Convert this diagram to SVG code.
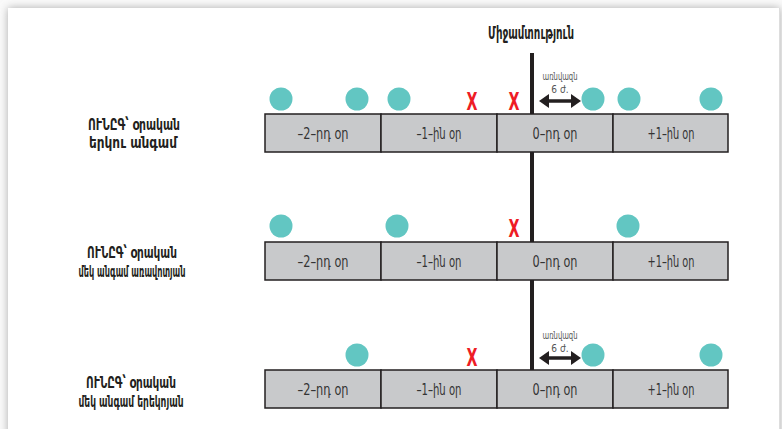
<svg xmlns="http://www.w3.org/2000/svg" width="782" height="429" viewBox="0 0 782 429">
<style>
.lbl{font-family:"DejaVu Sans Condensed","DejaVu Sans",sans-serif;font-stretch:condensed;font-weight:bold;font-size:16px;fill:#231f20;text-anchor:middle}
.cell rect{fill:#c8c9cb;stroke:#231f20;stroke-width:1.5}
.ct{font-family:"DejaVu Sans Condensed","DejaVu Sans",sans-serif;font-stretch:condensed;font-size:15.5px;fill:#333;text-anchor:middle}
.dot{fill:#62c6c2}
.x{font-family:"DejaVu Sans Condensed","DejaVu Sans",sans-serif;font-stretch:condensed;font-weight:bold;font-size:24px;fill:#ee1c25;text-anchor:middle}
.note{font-family:"DejaVu Sans Condensed","DejaVu Sans",sans-serif;font-stretch:condensed;font-size:10px;fill:#555;text-anchor:middle}
.title{font-family:"DejaVu Sans Condensed","DejaVu Sans",sans-serif;font-stretch:condensed;font-weight:bold;font-size:18px;fill:#231f20;text-anchor:middle}
.arr{stroke:#231f20;stroke-width:3.5;marker-start:url(#ah);marker-end:url(#ah)}
</style>
<defs>
<filter id="sh" x="-5%" y="-5%" width="110%" height="110%">
<feGaussianBlur stdDeviation="4"/>
</filter>
<marker id="ah" viewBox="0 0 10 14" refX="2" refY="7" markerWidth="10" markerHeight="14" markerUnits="userSpaceOnUse" orient="auto-start-reverse">
<path d="M0,0 L10,7 L0,14 Z" fill="#231f20"/>
</marker>
</defs>
<rect width="782" height="429" fill="#fafafa"/>
<rect x="8" y="8" width="772" height="440" fill="#aaa" filter="url(#sh)"/>
<rect x="8" y="8" width="771" height="440" fill="#fff"/>
<line x1="779.5" y1="8" x2="779.5" y2="429" stroke="#ddd" stroke-width="1"/>

<g id="title">
<text class="title" x="531" y="39" textLength="86" lengthAdjust="spacingAndGlyphs">Միջամտություն</text>
</g>

<g id="connectors">
<rect x="530" y="53" width="4" height="317" fill="#231f20"/>
<line class="arr" x1="547" y1="101" x2="573" y2="101"/>
<line class="arr" x1="547" y1="358" x2="573" y2="358"/>
</g>

<g id="row1">
<g id="row1-label">
<text class="lbl" x="134" y="130" textLength="92" lengthAdjust="spacingAndGlyphs">ՈՒՆԸԳ՝ օրական</text>
<text class="lbl" x="133" y="148" textLength="88" lengthAdjust="spacingAndGlyphs">երկու անգամ</text>
</g>
<g id="row1-cells" class="cell">
<rect x="265" y="114" width="116" height="38"/>
<rect x="381" y="114" width="116" height="38"/>
<rect x="497" y="114" width="116" height="38"/>
<rect x="613" y="114" width="115" height="38"/>
<text class="ct" x="323" y="139" textLength="51" lengthAdjust="spacingAndGlyphs">–2–րդ օր</text>
<text class="ct" x="439" y="139" textLength="45" lengthAdjust="spacingAndGlyphs">–1–ին օր</text>
<text class="ct" x="555" y="139" textLength="45" lengthAdjust="spacingAndGlyphs">0–րդ օր</text>
<text class="ct" x="671" y="139" textLength="47" lengthAdjust="spacingAndGlyphs">+1–ին օր</text>
</g>
<g id="row1-marks">
<circle class="dot" cx="281" cy="99" r="11.5"/>
<circle class="dot" cx="357" cy="99" r="11.5"/>
<circle class="dot" cx="399" cy="99" r="11.5"/>
<circle class="dot" cx="593" cy="99" r="11.5"/>
<circle class="dot" cx="629" cy="99" r="11.5"/>
<circle class="dot" cx="711" cy="99" r="11.5"/>
<text class="x" x="472" y="110" textLength="11" lengthAdjust="spacingAndGlyphs">X</text>
<text class="x" x="514" y="110" textLength="11" lengthAdjust="spacingAndGlyphs">X</text>
<text class="note" x="560" y="80" textLength="35" lengthAdjust="spacingAndGlyphs">առնվազն</text>
<text class="note" x="560" y="93">6 ժ.</text>
</g>
</g>

<g id="row2">
<g id="row2-label">
<text class="lbl" x="132" y="258" textLength="90" lengthAdjust="spacingAndGlyphs">ՈՒՆԸԳ՝ օրական</text>
<text class="lbl" x="132" y="277" textLength="107" lengthAdjust="spacingAndGlyphs">մեկ անգամ առավոտյան</text>
</g>
<g id="row2-cells" class="cell">
<rect x="265" y="242" width="116" height="38"/>
<rect x="381" y="242" width="116" height="38"/>
<rect x="497" y="242" width="116" height="38"/>
<rect x="613" y="242" width="115" height="38"/>
<text class="ct" x="323" y="267" textLength="51" lengthAdjust="spacingAndGlyphs">–2–րդ օր</text>
<text class="ct" x="439" y="267" textLength="45" lengthAdjust="spacingAndGlyphs">–1–ին օր</text>
<text class="ct" x="555" y="267" textLength="45" lengthAdjust="spacingAndGlyphs">0–րդ օր</text>
<text class="ct" x="671" y="267" textLength="47" lengthAdjust="spacingAndGlyphs">+1–ին օր</text>
</g>
<g id="row2-marks">
<circle class="dot" cx="281" cy="226" r="11.5"/>
<circle class="dot" cx="397" cy="226" r="11.5"/>
<circle class="dot" cx="628" cy="226" r="11.5"/>
<text class="x" x="514" y="237" textLength="11" lengthAdjust="spacingAndGlyphs">X</text>
</g>
</g>

<g id="row3">
<g id="row3-label">
<text class="lbl" x="131" y="388" textLength="90" lengthAdjust="spacingAndGlyphs">ՈՒՆԸԳ՝ օրական</text>
<text class="lbl" x="131" y="407" textLength="105" lengthAdjust="spacingAndGlyphs">մեկ անգամ երեկոյան</text>
</g>
<g id="row3-cells" class="cell">
<rect x="265" y="370" width="116" height="38"/>
<rect x="381" y="370" width="116" height="38"/>
<rect x="497" y="370" width="116" height="38"/>
<rect x="613" y="370" width="115" height="38"/>
<text class="ct" x="323" y="395" textLength="51" lengthAdjust="spacingAndGlyphs">–2–րդ օր</text>
<text class="ct" x="439" y="395" textLength="45" lengthAdjust="spacingAndGlyphs">–1–ին օր</text>
<text class="ct" x="555" y="395" textLength="45" lengthAdjust="spacingAndGlyphs">0–րդ օր</text>
<text class="ct" x="671" y="395" textLength="47" lengthAdjust="spacingAndGlyphs">+1–ին օր</text>
</g>
<g id="row3-marks">
<circle class="dot" cx="357" cy="355" r="11.5"/>
<circle class="dot" cx="593" cy="355" r="11.5"/>
<circle class="dot" cx="711" cy="355" r="11.5"/>
<text class="x" x="472" y="366" textLength="11" lengthAdjust="spacingAndGlyphs">X</text>
<text class="note" x="560" y="339" textLength="35" lengthAdjust="spacingAndGlyphs">առնվազն</text>
<text class="note" x="560" y="352">6 ժ.</text>
</g>
</g>
</svg>
